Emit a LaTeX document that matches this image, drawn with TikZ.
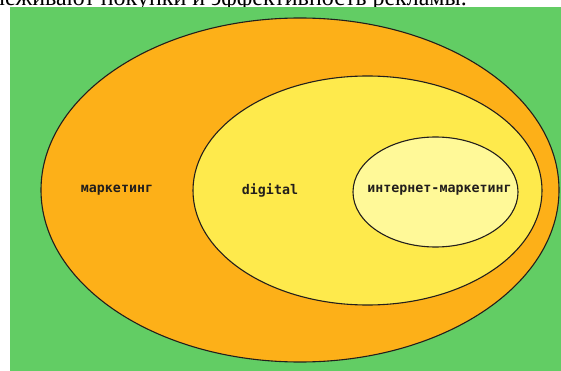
\documentclass[tikz,border=0pt]{standalone}
\usepackage{fontspec}
\setmainfont{Liberation Serif}
\newfontfamily\labelfont{DejaVu Sans Mono}
\usetikzlibrary{shapes.geometric}
\definecolor{bggreen}{RGB}{98,205,100}
\definecolor{ringorange}{RGB}{253,176,24}
\definecolor{ringyellow}{RGB}{254,234,76}
\definecolor{ringpale}{RGB}{255,249,152}
\definecolor{inkdark}{RGB}{34,30,28}
\tikzset{
  ring/.style={ellipse, draw=inkdark, line width=1.1pt, inner sep=0pt},
  tag/.style={font=\labelfont\bfseries\fontsize{13.3}{15}\selectfont, text=inkdark, inner sep=0pt},
  caption/.style={font=\fontsize{24}{28}\selectfont, text=black, inner sep=0pt}
}
\begin{document}
\begin{tikzpicture}[x=1pt, y=-1pt]
  \useasboundingbox (0,0) rectangle (561,371);
  \clip (0,0) rectangle (561,371);
  % caption line above the figure, partly outside the frame
  \node[caption, anchor=base east] (caption) at (467,6) {отслеживают покупки и эффективность рекламы.};
  % green field
  \fill[bggreen] (10,7.5) rectangle (561,371);
  % nested sets
  \node[ring, fill=ringorange, minimum width=518pt, minimum height=344pt] (marketing) at (300,190) {};
  \node[ring, fill=ringyellow, minimum width=349pt, minimum height=229pt] (digital) at (367.5,190.5) {};
  \node[ring, fill=ringpale, minimum width=165pt, minimum height=110pt] (internet) at (435.5,192) {};
  % labels
  \node[tag] (lmarketing) at (117,190.5) {маркетинг};
  \node[tag] (ldigital) at (270,190.5) {digital};
  \node[tag] (linternet) at (439.5,190.5) {интернет-маркетинг};
\end{tikzpicture}
\end{document}
